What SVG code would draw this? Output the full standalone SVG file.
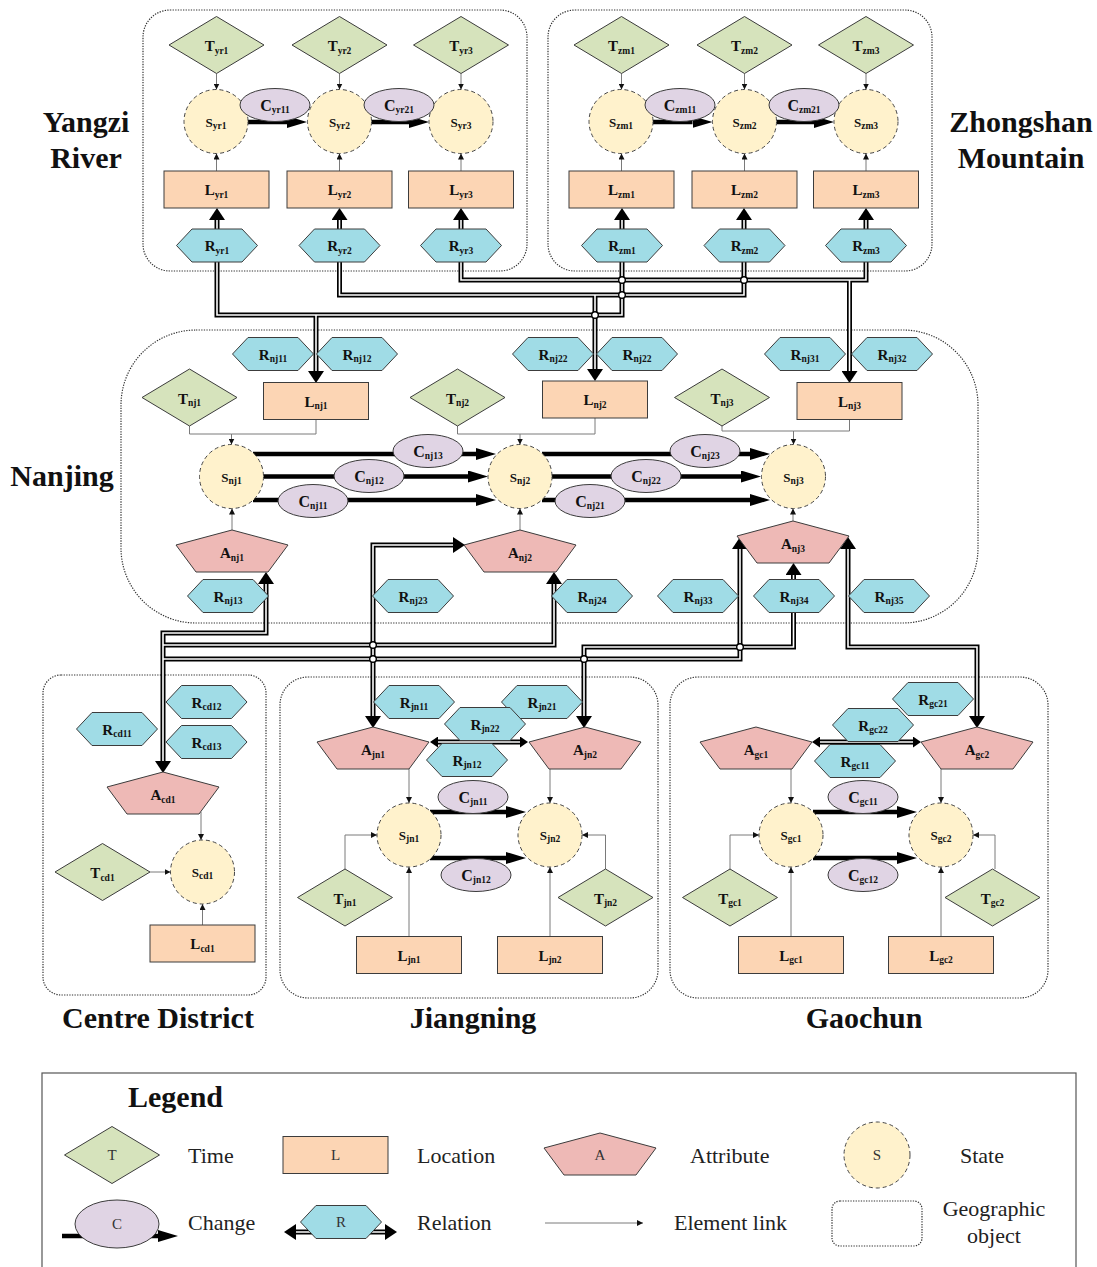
<svg xmlns="http://www.w3.org/2000/svg" width="1097" height="1267" viewBox="0 0 1097 1267">
<style>
text{font-family:"Liberation Serif","Times New Roman",serif}
.lb{font-size:15px;font-weight:bold;text-anchor:middle;fill:#111}
.lc{font-size:16px;font-weight:bold;text-anchor:middle;fill:#111}
.ls{font-size:13px;font-weight:bold;text-anchor:middle;fill:#111}
.sb{font-size:9.5px}
.big{font-size:30px;font-weight:bold;text-anchor:middle;fill:#111}
.lg{font-size:22px;fill:#222}
.lgm{font-size:22px;fill:#222;text-anchor:middle}
.ll{font-size:15px;fill:#333;text-anchor:middle}
.t{fill:#d6e3bc;stroke:#3c3c3c;stroke-width:1}
.l{fill:#fcd5b4;stroke:#3c3c3c;stroke-width:1}
.a{fill:#eeb9b6;stroke:#3c3c3c;stroke-width:1}
.s{fill:#fff2cc;stroke:#444;stroke-width:1;stroke-dasharray:4 3}
.c{fill:#e0d4e4;stroke:#3c3c3c;stroke-width:1}
.r{fill:#a0dce6;stroke:#3c3c3c;stroke-width:1}
.geo{fill:none;stroke:#333;stroke-width:1.2;stroke-dasharray:1.3 1.3}
.lk{fill:none;stroke:#7a7a7a;stroke-width:1;marker-end:url(#mThin)}
.lk0{fill:none;stroke:#7a7a7a;stroke-width:1}
.cg{fill:none;stroke:#000;stroke-width:4.5;marker-end:url(#mChg)}
.rb{fill:none;stroke:#000;stroke-width:5}
.rw{fill:none;stroke:#fff;stroke-width:1.6}
.jp{fill:#fff;stroke:#000;stroke-width:1.4}
</style>
<defs>
  <polygon id="dia" points="0,-28.5 47.5,0 0,28.5 -47.5,0"/>
  <rect id="box" x="-52.5" y="-18.5" width="105" height="37"/>
  <polygon id="hex" points="-40.5,0 -25,-16.5 25,-16.5 40.5,0 25,16.5 -25,16.5"/>
  <polygon id="pen" points="0,0 56,15 36,42 -36,42 -56,15"/>
  <circle id="st" r="32"/>
  <ellipse id="ch" rx="35" ry="16.5"/>
  <marker id="mThin" viewBox="0 0 6 6" refX="6" refY="3" markerWidth="6" markerHeight="6" markerUnits="userSpaceOnUse" orient="auto"><path d="M0,0L6,3L0,6z" fill="#111"/></marker>
  <marker id="mChg" viewBox="0 0 20 12" refX="0" refY="6" markerWidth="20" markerHeight="12" markerUnits="userSpaceOnUse" orient="auto"><path d="M0,0L20,6L0,12z" fill="#000"/></marker>
  <marker id="mRel" viewBox="0 0 12 16" refX="0" refY="8" markerWidth="12" markerHeight="16" markerUnits="userSpaceOnUse" orient="auto-start-reverse"><path d="M0,0L12,8L0,16z" fill="#000"/></marker>
  <marker id="mRelS" viewBox="0 0 8 11" refX="0" refY="5.5" markerWidth="8" markerHeight="11" markerUnits="userSpaceOnUse" orient="auto-start-reverse"><path d="M0,0L8,5.5L0,11z" fill="#000"/></marker>
</defs>

<!-- geographic object frames and their names -->
<g id="regions">
  <rect class="geo" x="143" y="10" width="384" height="261" rx="27"/>
  <rect class="geo" x="548" y="10" width="384" height="261" rx="27"/>
  <rect class="geo" x="121" y="330" width="857" height="293" rx="75"/>
  <rect class="geo" x="43" y="675" width="223" height="320" rx="18"/>
  <rect class="geo" x="280" y="677" width="378" height="321" rx="28"/>
  <rect class="geo" x="670" y="677" width="378" height="321" rx="28"/>
  <text class="big" x="86" y="132">Yangzi</text>
  <text class="big" x="86" y="168">River</text>
  <text class="big" x="1021" y="132">Zhongshan</text>
  <text class="big" x="1021" y="168">Mountain</text>
  <text class="big" x="62" y="486">Nanjing</text>
  <text class="big" x="158" y="1028">Centre District</text>
  <text class="big" x="473" y="1028">Jiangning</text>
  <text class="big" x="864" y="1028">Gaochun</text>
</g>

<g id="connectors">
  <!-- element links -->
  <path class="lk" d="M216.5 73.5V89.5"/><path class="lk" d="M339.5 73.5V89.5"/><path class="lk" d="M461 73.5V89.5"/>
  <path class="lk" d="M621.5 73.5V89.5"/><path class="lk" d="M744.5 73.5V89.5"/><path class="lk" d="M866 73.5V89.5"/>
  <path class="lk" d="M216.5 171V153.5"/><path class="lk" d="M339.5 171V153.5"/><path class="lk" d="M461 171V153.5"/>
  <path class="lk" d="M621.5 171V153.5"/><path class="lk" d="M744.5 171V153.5"/><path class="lk" d="M866 171V153.5"/>
  <path class="lk" d="M189.5 426V434H231.5V444.5"/><path class="lk0" d="M316 419.5V434H231.5"/>
  <path class="lk" d="M457.5 426V434H520V444.5"/><path class="lk0" d="M595 418V434H520"/>
  <path class="lk" d="M722 426V431H793.5V444.5"/><path class="lk0" d="M849.5 419.5V431H793.5"/>
  <path class="lk" d="M232 530V508.5"/><path class="lk" d="M520 530V508.5"/><path class="lk" d="M793 521V508.5"/>
  <path class="lk" d="M201 812V840"/><path class="lk" d="M150 872H170.5"/><path class="lk" d="M202.5 925V904"/>
  <path class="lk" d="M409 769V803"/><path class="lk" d="M550 769V803"/>
  <path class="lk" d="M345 869V835H377"/><path class="lk" d="M605.5 869V835H582"/>
  <path class="lk" d="M409 937V867"/><path class="lk" d="M550 937V867"/>
  <path class="lk" d="M791 769V803"/><path class="lk" d="M941 769V803"/>
  <path class="lk" d="M730 869V835H759"/><path class="lk" d="M995 869V835H973"/>
  <path class="lk" d="M791 937V867"/><path class="lk" d="M941 937V867"/>

  <!-- change arrows -->
  <path class="cg" d="M248 122H287"/><path class="cg" d="M371.5 122H409"/>
  <path class="cg" d="M653 122H692.5"/><path class="cg" d="M776.5 122H814"/>
  <path class="cg" d="M253 454H476"/><path class="cg" d="M263.5 476.5H468"/><path class="cg" d="M253 500H476"/>
  <path class="cg" d="M542 454H750"/><path class="cg" d="M552 476.5H741"/><path class="cg" d="M542 500H750"/>
  <path class="cg" d="M430 812H506"/><path class="cg" d="M430 858H506"/>
  <path class="cg" d="M813 812H897"/><path class="cg" d="M813 858H897"/>

  <!-- relations: dark outline first, white core second -->
  <g class="rb">
    <path d="M217 220V315H622V220" marker-start="url(#mRel)" marker-end="url(#mRel)"/>
    <path d="M316 315V371" marker-end="url(#mRel)"/>
    <path d="M339.5 220V295H744V220" marker-start="url(#mRel)" marker-end="url(#mRel)"/>
    <path d="M595 295V369" marker-end="url(#mRel)"/>
    <path d="M461 220V280H866V220" marker-start="url(#mRel)" marker-end="url(#mRel)"/>
    <path d="M849.5 280V371" marker-end="url(#mRel)"/>
    <path d="M163 761V633H266V584" marker-start="url(#mRel)" marker-end="url(#mRel)"/>
    <path d="M163 645H554V584" marker-end="url(#mRel)"/>
    <path d="M163 659H740V549" marker-end="url(#mRel)"/>
    <path d="M373 716V545H453" marker-start="url(#mRel)" marker-end="url(#mRel)"/>
    <path d="M584 716V647H793.5V575" marker-start="url(#mRel)" marker-end="url(#mRel)"/>
    <path d="M848 549V647H977V716" marker-start="url(#mRel)" marker-end="url(#mRel)"/>
    <path d="M438 742H520" marker-start="url(#mRelS)" marker-end="url(#mRelS)"/>
    <path d="M820 742H913" marker-start="url(#mRelS)" marker-end="url(#mRelS)"/>
  </g>
  <g class="rw">
    <path d="M217 220V315H622V220"/>
    <path d="M316 315V371"/>
    <path d="M339.5 220V295H744V220"/>
    <path d="M595 295V369"/>
    <path d="M461 220V280H866V220"/>
    <path d="M849.5 280V371"/>
    <path d="M163 761V633H266V584"/>
    <path d="M163 645H554V584"/>
    <path d="M163 659H740V549"/>
    <path d="M373 716V545H453"/>
    <path d="M584 716V647H793.5V575"/>
    <path d="M848 549V647H977V716"/>
    <path d="M438 742H520"/>
    <path d="M820 742H913"/>
  </g>
  <!-- line jumps at crossings -->
  <g class="jp">
    <circle cx="622" cy="280" r="3.3"/><circle cx="622" cy="295" r="3.3"/>
    <circle cx="744" cy="280" r="3.3"/><circle cx="595" cy="315" r="3.3"/>
    <circle cx="373" cy="645" r="3.3"/><circle cx="373" cy="659" r="3.3"/>
    <circle cx="584" cy="659" r="3.3"/><circle cx="740" cy="647" r="3.3"/>
  </g>
</g>

<!-- Yangzi River -->
<g id="T_yr1"><use href="#dia" x="216.5" y="45" class="t"/><text class="lb" x="216.5" y="51">T<tspan class="sb" dy="2.5">yr1</tspan></text></g>
<g id="T_yr2"><use href="#dia" x="339.5" y="45" class="t"/><text class="lb" x="339.5" y="51">T<tspan class="sb" dy="2.5">yr2</tspan></text></g>
<g id="T_yr3"><use href="#dia" x="461" y="45" class="t"/><text class="lb" x="461" y="51">T<tspan class="sb" dy="2.5">yr3</tspan></text></g>
<g id="S_yr1"><use href="#st" x="216" y="121.5" class="s"/><text class="ls" x="216" y="126.5">S<tspan class="sb" dy="2">yr1</tspan></text></g>
<g id="S_yr2"><use href="#st" x="339.5" y="121.5" class="s"/><text class="ls" x="339.5" y="126.5">S<tspan class="sb" dy="2">yr2</tspan></text></g>
<g id="S_yr3"><use href="#st" x="461" y="121.5" class="s"/><text class="ls" x="461" y="126.5">S<tspan class="sb" dy="2">yr3</tspan></text></g>
<g id="C_yr11"><use href="#ch" x="275" y="105" class="c"/><text class="lc" x="275" y="110.5">C<tspan class="sb" dy="2.5">yr11</tspan></text></g>
<g id="C_yr21"><use href="#ch" x="399" y="105" class="c"/><text class="lc" x="399" y="110.5">C<tspan class="sb" dy="2.5">yr21</tspan></text></g>
<g id="L_yr1"><use href="#box" x="216.5" y="189.5" class="l"/><text class="lb" x="216.5" y="195">L<tspan class="sb" dy="2.5">yr1</tspan></text></g>
<g id="L_yr2"><use href="#box" x="339.5" y="189.5" class="l"/><text class="lb" x="339.5" y="195">L<tspan class="sb" dy="2.5">yr2</tspan></text></g>
<g id="L_yr3"><use href="#box" x="461" y="189.5" class="l"/><text class="lb" x="461" y="195">L<tspan class="sb" dy="2.5">yr3</tspan></text></g>
<g id="R_yr1"><use href="#hex" x="217" y="245.5" class="r"/><text class="lb" x="217" y="251">R<tspan class="sb" dy="2.5">yr1</tspan></text></g>
<g id="R_yr2"><use href="#hex" x="339.5" y="245.5" class="r"/><text class="lb" x="339.5" y="251">R<tspan class="sb" dy="2.5">yr2</tspan></text></g>
<g id="R_yr3"><use href="#hex" x="461" y="245.5" class="r"/><text class="lb" x="461" y="251">R<tspan class="sb" dy="2.5">yr3</tspan></text></g>

<!-- Zhongshan Mountain -->
<g id="T_zm1"><use href="#dia" x="621.5" y="45" class="t"/><text class="lb" x="621.5" y="51">T<tspan class="sb" dy="2.5">zm1</tspan></text></g>
<g id="T_zm2"><use href="#dia" x="744.5" y="45" class="t"/><text class="lb" x="744.5" y="51">T<tspan class="sb" dy="2.5">zm2</tspan></text></g>
<g id="T_zm3"><use href="#dia" x="866" y="45" class="t"/><text class="lb" x="866" y="51">T<tspan class="sb" dy="2.5">zm3</tspan></text></g>
<g id="S_zm1"><use href="#st" x="621" y="121.5" class="s"/><text class="ls" x="621" y="126.5">S<tspan class="sb" dy="2">zm1</tspan></text></g>
<g id="S_zm2"><use href="#st" x="744.5" y="121.5" class="s"/><text class="ls" x="744.5" y="126.5">S<tspan class="sb" dy="2">zm2</tspan></text></g>
<g id="S_zm3"><use href="#st" x="866" y="121.5" class="s"/><text class="ls" x="866" y="126.5">S<tspan class="sb" dy="2">zm3</tspan></text></g>
<g id="C_zm11"><use href="#ch" x="680" y="105" class="c"/><text class="lc" x="680" y="110.5">C<tspan class="sb" dy="2.5">zm11</tspan></text></g>
<g id="C_zm21"><use href="#ch" x="804" y="105" class="c"/><text class="lc" x="804" y="110.5">C<tspan class="sb" dy="2.5">zm21</tspan></text></g>
<g id="L_zm1"><use href="#box" x="621.5" y="189.5" class="l"/><text class="lb" x="621.5" y="195">L<tspan class="sb" dy="2.5">zm1</tspan></text></g>
<g id="L_zm2"><use href="#box" x="744.5" y="189.5" class="l"/><text class="lb" x="744.5" y="195">L<tspan class="sb" dy="2.5">zm2</tspan></text></g>
<g id="L_zm3"><use href="#box" x="866" y="189.5" class="l"/><text class="lb" x="866" y="195">L<tspan class="sb" dy="2.5">zm3</tspan></text></g>
<g id="R_zm1"><use href="#hex" x="622" y="245.5" class="r"/><text class="lb" x="622" y="251">R<tspan class="sb" dy="2.5">zm1</tspan></text></g>
<g id="R_zm2"><use href="#hex" x="744.5" y="245.5" class="r"/><text class="lb" x="744.5" y="251">R<tspan class="sb" dy="2.5">zm2</tspan></text></g>
<g id="R_zm3"><use href="#hex" x="866" y="245.5" class="r"/><text class="lb" x="866" y="251">R<tspan class="sb" dy="2.5">zm3</tspan></text></g>

<!-- Nanjing -->
<g id="R_nj11"><use href="#hex" x="273" y="354" class="r"/><text class="lb" x="273" y="359.5">R<tspan class="sb" dy="2.5">nj11</tspan></text></g>
<g id="R_nj12"><use href="#hex" x="357" y="354" class="r"/><text class="lb" x="357" y="359.5">R<tspan class="sb" dy="2.5">nj12</tspan></text></g>
<g id="R_nj22a"><use href="#hex" x="553" y="354" class="r"/><text class="lb" x="553" y="359.5">R<tspan class="sb" dy="2.5">nj22</tspan></text></g>
<g id="R_nj22b"><use href="#hex" x="637" y="354" class="r"/><text class="lb" x="637" y="359.5">R<tspan class="sb" dy="2.5">nj22</tspan></text></g>
<g id="R_nj31"><use href="#hex" x="805" y="354" class="r"/><text class="lb" x="805" y="359.5">R<tspan class="sb" dy="2.5">nj31</tspan></text></g>
<g id="R_nj32"><use href="#hex" x="892" y="354" class="r"/><text class="lb" x="892" y="359.5">R<tspan class="sb" dy="2.5">nj32</tspan></text></g>
<g id="T_nj1"><use href="#dia" x="189.5" y="397.5" class="t"/><text class="lb" x="189.5" y="403.5">T<tspan class="sb" dy="2.5">nj1</tspan></text></g>
<g id="T_nj2"><use href="#dia" x="457.5" y="397.5" class="t"/><text class="lb" x="457.5" y="403.5">T<tspan class="sb" dy="2.5">nj2</tspan></text></g>
<g id="T_nj3"><use href="#dia" x="722" y="397.5" class="t"/><text class="lb" x="722" y="403.5">T<tspan class="sb" dy="2.5">nj3</tspan></text></g>
<g id="L_nj1"><use href="#box" x="316" y="401" class="l"/><text class="lb" x="316" y="406.5">L<tspan class="sb" dy="2.5">nj1</tspan></text></g>
<g id="L_nj2"><use href="#box" x="595" y="399.5" class="l"/><text class="lb" x="595" y="405">L<tspan class="sb" dy="2.5">nj2</tspan></text></g>
<g id="L_nj3"><use href="#box" x="849.5" y="401" class="l"/><text class="lb" x="849.5" y="406.5">L<tspan class="sb" dy="2.5">nj3</tspan></text></g>
<g id="S_nj1"><use href="#st" x="231.5" y="476.5" class="s"/><text class="ls" x="231.5" y="481.5">S<tspan class="sb" dy="2">nj1</tspan></text></g>
<g id="S_nj2"><use href="#st" x="520" y="476.5" class="s"/><text class="ls" x="520" y="481.5">S<tspan class="sb" dy="2">nj2</tspan></text></g>
<g id="S_nj3"><use href="#st" x="793.5" y="476.5" class="s"/><text class="ls" x="793.5" y="481.5">S<tspan class="sb" dy="2">nj3</tspan></text></g>
<g id="C_nj13"><use href="#ch" x="428" y="451" class="c"/><text class="lc" x="428" y="456.5">C<tspan class="sb" dy="2.5">nj13</tspan></text></g>
<g id="C_nj12"><use href="#ch" x="369" y="476" class="c"/><text class="lc" x="369" y="481.5">C<tspan class="sb" dy="2.5">nj12</tspan></text></g>
<g id="C_nj11"><use href="#ch" x="313" y="501" class="c"/><text class="lc" x="313" y="506.5">C<tspan class="sb" dy="2.5">nj11</tspan></text></g>
<g id="C_nj23"><use href="#ch" x="705" y="451" class="c"/><text class="lc" x="705" y="456.5">C<tspan class="sb" dy="2.5">nj23</tspan></text></g>
<g id="C_nj22"><use href="#ch" x="646" y="476" class="c"/><text class="lc" x="646" y="481.5">C<tspan class="sb" dy="2.5">nj22</tspan></text></g>
<g id="C_nj21"><use href="#ch" x="590" y="501" class="c"/><text class="lc" x="590" y="506.5">C<tspan class="sb" dy="2.5">nj21</tspan></text></g>
<g id="A_nj1"><use href="#pen" x="232" y="530" class="a"/><text class="lb" x="232" y="558">A<tspan class="sb" dy="2.5">nj1</tspan></text></g>
<g id="A_nj2"><use href="#pen" x="520" y="530" class="a"/><text class="lb" x="520" y="558">A<tspan class="sb" dy="2.5">nj2</tspan></text></g>
<g id="A_nj3"><use href="#pen" x="793" y="521" class="a"/><text class="lb" x="793" y="549">A<tspan class="sb" dy="2.5">nj3</tspan></text></g>
<g id="R_nj13"><use href="#hex" x="228" y="596" class="r"/><text class="lb" x="228" y="601.5">R<tspan class="sb" dy="2.5">nj13</tspan></text></g>
<g id="R_nj23"><use href="#hex" x="413" y="596" class="r"/><text class="lb" x="413" y="601.5">R<tspan class="sb" dy="2.5">nj23</tspan></text></g>
<g id="R_nj24"><use href="#hex" x="592" y="596" class="r"/><text class="lb" x="592" y="601.5">R<tspan class="sb" dy="2.5">nj24</tspan></text></g>
<g id="R_nj33"><use href="#hex" x="698" y="596" class="r"/><text class="lb" x="698" y="601.5">R<tspan class="sb" dy="2.5">nj33</tspan></text></g>
<g id="R_nj34"><use href="#hex" x="794" y="596" class="r"/><text class="lb" x="794" y="601.5">R<tspan class="sb" dy="2.5">nj34</tspan></text></g>
<g id="R_nj35"><use href="#hex" x="889" y="596" class="r"/><text class="lb" x="889" y="601.5">R<tspan class="sb" dy="2.5">nj35</tspan></text></g>

<!-- Centre District -->
<g id="R_cd12"><use href="#hex" x="206.5" y="702" class="r"/><text class="lb" x="206.5" y="707.5">R<tspan class="sb" dy="2.5">cd12</tspan></text></g>
<g id="R_cd11"><use href="#hex" x="117" y="729" class="r"/><text class="lb" x="117" y="734.5">R<tspan class="sb" dy="2.5">cd11</tspan></text></g>
<g id="R_cd13"><use href="#hex" x="206.5" y="742" class="r"/><text class="lb" x="206.5" y="747.5">R<tspan class="sb" dy="2.5">cd13</tspan></text></g>
<g id="A_cd1"><use href="#pen" x="163" y="772" class="a"/><text class="lb" x="163" y="800">A<tspan class="sb" dy="2.5">cd1</tspan></text></g>
<g id="S_cd1"><use href="#st" x="202.5" y="872" class="s"/><text class="ls" x="202.5" y="877">S<tspan class="sb" dy="2">cd1</tspan></text></g>
<g id="T_cd1"><use href="#dia" x="102.5" y="872" class="t"/><text class="lb" x="102.5" y="878">T<tspan class="sb" dy="2.5">cd1</tspan></text></g>
<g id="L_cd1"><use href="#box" x="202.5" y="943.5" class="l"/><text class="lb" x="202.5" y="949">L<tspan class="sb" dy="2.5">cd1</tspan></text></g>

<!-- Jiangning -->
<g id="R_jn11"><use href="#hex" x="414" y="702" class="r"/><text class="lb" x="414" y="707.5">R<tspan class="sb" dy="2.5">jn11</tspan></text></g>
<g id="R_jn21"><use href="#hex" x="542" y="702" class="r"/><text class="lb" x="542" y="707.5">R<tspan class="sb" dy="2.5">jn21</tspan></text></g>
<g id="R_jn22"><use href="#hex" x="485" y="724" class="r"/><text class="lb" x="485" y="729.5">R<tspan class="sb" dy="2.5">jn22</tspan></text></g>
<g id="R_jn12"><use href="#hex" x="467" y="760" class="r"/><text class="lb" x="467" y="765.5">R<tspan class="sb" dy="2.5">jn12</tspan></text></g>
<g id="A_jn1"><use href="#pen" x="373" y="727" class="a"/><text class="lb" x="373" y="755">A<tspan class="sb" dy="2.5">jn1</tspan></text></g>
<g id="A_jn2"><use href="#pen" x="585" y="727" class="a"/><text class="lb" x="585" y="755">A<tspan class="sb" dy="2.5">jn2</tspan></text></g>
<g id="S_jn1"><use href="#st" x="409" y="835" class="s"/><text class="ls" x="409" y="840">S<tspan class="sb" dy="2">jn1</tspan></text></g>
<g id="S_jn2"><use href="#st" x="550" y="835" class="s"/><text class="ls" x="550" y="840">S<tspan class="sb" dy="2">jn2</tspan></text></g>
<g id="C_jn11"><use href="#ch" x="473" y="797" class="c"/><text class="lc" x="473" y="802.5">C<tspan class="sb" dy="2.5">jn11</tspan></text></g>
<g id="C_jn12"><use href="#ch" x="476" y="875" class="c"/><text class="lc" x="476" y="880.5">C<tspan class="sb" dy="2.5">jn12</tspan></text></g>
<g id="T_jn1"><use href="#dia" x="345" y="897.5" class="t"/><text class="lb" x="345" y="903.5">T<tspan class="sb" dy="2.5">jn1</tspan></text></g>
<g id="T_jn2"><use href="#dia" x="605.5" y="897.5" class="t"/><text class="lb" x="605.5" y="903.5">T<tspan class="sb" dy="2.5">jn2</tspan></text></g>
<g id="L_jn1"><use href="#box" x="409" y="955" class="l"/><text class="lb" x="409" y="960.5">L<tspan class="sb" dy="2.5">jn1</tspan></text></g>
<g id="L_jn2"><use href="#box" x="550" y="955" class="l"/><text class="lb" x="550" y="960.5">L<tspan class="sb" dy="2.5">jn2</tspan></text></g>

<!-- Gaochun -->
<g id="R_gc21"><use href="#hex" x="933" y="699" class="r"/><text class="lb" x="933" y="704.5">R<tspan class="sb" dy="2.5">gc21</tspan></text></g>
<g id="R_gc22"><use href="#hex" x="873" y="725" class="r"/><text class="lb" x="873" y="730.5">R<tspan class="sb" dy="2.5">gc22</tspan></text></g>
<g id="R_gc11"><use href="#hex" x="855" y="761" class="r"/><text class="lb" x="855" y="766.5">R<tspan class="sb" dy="2.5">gc11</tspan></text></g>
<g id="A_gc1"><use href="#pen" x="756" y="727" class="a"/><text class="lb" x="756" y="755">A<tspan class="sb" dy="2.5">gc1</tspan></text></g>
<g id="A_gc2"><use href="#pen" x="977" y="727" class="a"/><text class="lb" x="977" y="755">A<tspan class="sb" dy="2.5">gc2</tspan></text></g>
<g id="S_gc1"><use href="#st" x="791" y="835" class="s"/><text class="ls" x="791" y="840">S<tspan class="sb" dy="2">gc1</tspan></text></g>
<g id="S_gc2"><use href="#st" x="941" y="835" class="s"/><text class="ls" x="941" y="840">S<tspan class="sb" dy="2">gc2</tspan></text></g>
<g id="C_gc11"><use href="#ch" x="863" y="797" class="c"/><text class="lc" x="863" y="802.5">C<tspan class="sb" dy="2.5">gc11</tspan></text></g>
<g id="C_gc12"><use href="#ch" x="863" y="875" class="c"/><text class="lc" x="863" y="880.5">C<tspan class="sb" dy="2.5">gc12</tspan></text></g>
<g id="T_gc1"><use href="#dia" x="730" y="897.5" class="t"/><text class="lb" x="730" y="903.5">T<tspan class="sb" dy="2.5">gc1</tspan></text></g>
<g id="T_gc2"><use href="#dia" x="992.5" y="897.5" class="t"/><text class="lb" x="992.5" y="903.5">T<tspan class="sb" dy="2.5">gc2</tspan></text></g>
<g id="L_gc1"><use href="#box" x="791" y="955" class="l"/><text class="lb" x="791" y="960.5">L<tspan class="sb" dy="2.5">gc1</tspan></text></g>
<g id="L_gc2"><use href="#box" x="941" y="955" class="l"/><text class="lb" x="941" y="960.5">L<tspan class="sb" dy="2.5">gc2</tspan></text></g>

<!-- Legend -->
<g id="legend">
  <rect x="42" y="1073" width="1034" height="210" fill="none" stroke="#555" stroke-width="1.2"/>
  <text x="128" y="1107" style="font-size:30px;font-weight:bold;fill:#111">Legend</text>
  <use href="#dia" x="112" y="1155" class="t"/><text class="ll" x="112" y="1160">T</text>
  <text class="lg" x="188" y="1163">Time</text>
  <use href="#box" x="335.5" y="1155" class="l"/><text class="ll" x="335.5" y="1160">L</text>
  <text class="lg" x="417" y="1163">Location</text>
  <use href="#pen" x="600" y="1133" class="a"/><text class="ll" x="600" y="1160">A</text>
  <text class="lg" x="690" y="1163">Attribute</text>
  <circle cx="877" cy="1155" r="33" class="s"/><text class="ll" x="877" y="1160">S</text>
  <text class="lg" x="960" y="1163">State</text>
  <path class="cg" d="M62 1236H158"/>
  <ellipse cx="117" cy="1224" rx="42" ry="24" class="c"/><text class="ll" x="117" y="1229">C</text>
  <text class="lg" x="188" y="1230">Change</text>
  <path class="rb" d="M296 1232H385" marker-start="url(#mRel)" marker-end="url(#mRel)"/>
  <path class="rw" d="M296 1232H385"/>
  <use href="#hex" x="341" y="1222" class="r"/><text class="ll" x="341" y="1227">R</text>
  <text class="lg" x="417" y="1230">Relation</text>
  <path class="lk" d="M545 1223H643"/>
  <text class="lg" x="674" y="1230">Element link</text>
  <rect class="geo" x="832" y="1201" width="90" height="45" rx="8"/>
  <text class="lgm" x="994" y="1216">Geographic</text>
  <text class="lgm" x="994" y="1243">object</text>
</g>
</svg>
